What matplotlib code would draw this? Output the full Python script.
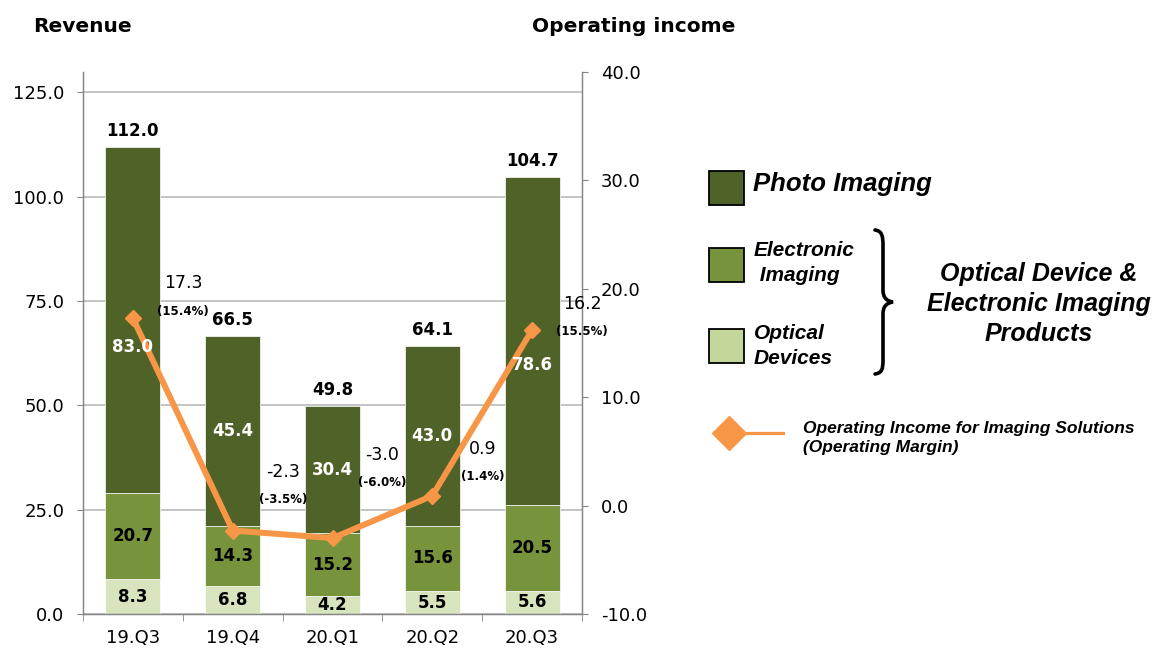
import matplotlib
matplotlib.use("Agg")
import matplotlib.pyplot as plt
from matplotlib.patches import Rectangle, PathPatch
from matplotlib.path import Path
from matplotlib.lines import Line2D

# --- data ---
quarters = ["19.Q3", "19.Q4", "20.Q1", "20.Q2", "20.Q3"]
optical_devices = [8.3, 6.8, 4.2, 5.5, 5.6]
electronic_imaging = [20.7, 14.3, 15.2, 15.6, 20.5]
photo_imaging = [83.0, 45.4, 30.4, 43.0, 78.6]
revenue_total = [112.0, 66.5, 49.8, 64.1, 104.7]
op_income = [17.3, -2.3, -3.0, 0.9, 16.2]
op_margin = [15.4, -3.5, -6.0, 1.4, 15.5]

# --- style ---
C_PHOTO = "#4F6228"
C_ELEC = "#77933C"
C_OPT = "#D7E4BD"
C_OPT_LEG = "#C4D79B"
C_LINE = "#F79646"
GRID = "#BFBFBF"
SPINE = "#868686"
NUM_FONT = "DejaVu Sans"
LEG_FONT = "Liberation Sans"

# label placement tweaks (points)
photo_label_shift = [-6.5, 0, 0, 0, -5.7]      # data units, moved off the line
inc_label_dy = [25, 42, 60, 34, 19]
inc_label_dx = 36
pct_gap = 20

W, H = 1157, 652
fig = plt.figure(figsize=(W / 100, H / 100), dpi=100)
ax = fig.add_axes([83 / W, 38 / H, 499 / W, 542 / H])
ax2 = ax.twinx()

x = list(range(len(quarters)))
bw = 0.55
ax.bar(x, optical_devices, bw, color=C_OPT, edgecolor="white", linewidth=0.5, zorder=2)
ax.bar(x, electronic_imaging, bw, bottom=optical_devices, color=C_ELEC,
       edgecolor="white", linewidth=0.5, zorder=2)
base2 = [a + b for a, b in zip(optical_devices, electronic_imaging)]
ax.bar(x, photo_imaging, bw, bottom=base2, color=C_PHOTO,
       edgecolor="white", linewidth=0.5, zorder=2)

LBL = 12
for i in x:
    ax.text(i, optical_devices[i] / 2, f"{optical_devices[i]:.1f}", ha="center", va="center",
            fontsize=LBL, fontweight="bold", family=NUM_FONT, color="black", zorder=3)
    ax.text(i, optical_devices[i] + electronic_imaging[i] / 2, f"{electronic_imaging[i]:.1f}",
            ha="center", va="center", fontsize=LBL, fontweight="bold", family=NUM_FONT,
            color="black", zorder=3)
    # drawn on the twin axes so the white labels sit above the orange line
    ax2.text(i, base2[i] + photo_imaging[i] / 2 + photo_label_shift[i], f"{photo_imaging[i]:.1f}",
             ha="center", va="center", fontsize=LBL, fontweight="bold", family=NUM_FONT,
             color="white", zorder=7, transform=ax.transData)
    ax.annotate(f"{revenue_total[i]:.1f}", (i, revenue_total[i]), xytext=(0, 5),
                textcoords="offset points", ha="center", va="bottom", fontsize=LBL,
                fontweight="bold", family=NUM_FONT)

ax.set_xlim(-0.5, len(quarters) - 0.5)
ax.set_ylim(0, 129.85)
ax.set_yticks([0, 25, 50, 75, 100, 125])
ax.set_yticklabels([f"{v:.1f}" for v in [0, 25, 50, 75, 100, 125]])
ax.set_xticks(x)
ax.set_xticklabels(quarters)
ax.set_xticks([i - 0.5 for i in range(len(quarters) + 1)], minor=True)
ax.tick_params(axis="x", which="major", length=0, pad=11, labelsize=13)
ax.tick_params(axis="x", which="minor", length=5, color=SPINE, direction="out")
ax.tick_params(axis="y", length=4.5, color=SPINE, pad=9, labelsize=13)
ax.grid(axis="y", color=GRID, linewidth=1.3, zorder=0)
ax.set_axisbelow(True)
ax.spines["top"].set_visible(False)
for s in ["left", "bottom", "right"]:
    ax.spines[s].set_color(SPINE)
    ax.spines[s].set_linewidth(1.0)

# --- operating income line ---
ax2.plot(x, op_income, color=C_LINE, linewidth=4.3, marker="D", markersize=8,
         markerfacecolor=C_LINE, markeredgecolor=C_LINE, zorder=5)
ax2.set_ylim(-10, 40)
ax2.set_yticks(range(-10, 41, 10))
ax2.set_yticklabels([f"{v:.1f}" for v in range(-10, 41, 10)])
ax2.tick_params(axis="y", length=4.5, color=SPINE, pad=9, labelsize=13)
ax2.spines["top"].set_visible(False)
for s in ["left", "bottom", "right"]:
    ax2.spines[s].set_color(SPINE)

for i in x:
    ax2.annotate(f"{op_income[i]:.1f}", (i, op_income[i]), xytext=(inc_label_dx, inc_label_dy[i]),
                 textcoords="offset points", ha="center", va="center", fontsize=12.5,
                 family=NUM_FONT)
    ax2.annotate(f"({op_margin[i]:.1f}%)", (i, op_income[i]),
                 xytext=(inc_label_dx, inc_label_dy[i] - pct_gap),
                 textcoords="offset points", ha="center", va="center", fontsize=8.5,
                 fontweight="bold", family=NUM_FONT)

for lbl in ax.get_xticklabels() + ax.get_yticklabels() + ax2.get_yticklabels():
    lbl.set_family(NUM_FONT)

# --- titles ---
fig.text(33 / W, 1 - 27 / H, "Revenue", fontsize=14.5, fontweight="bold", family=NUM_FONT,
         va="center", ha="left")
fig.text(532 / W, 1 - 27 / H, "Operating income", fontsize=14.5, fontweight="bold",
         family=NUM_FONT, va="center", ha="left")

# --- custom legend ---
def fx(px):
    return px / W


def fy(py):
    return 1 - py / H


swatches = [(171, C_PHOTO), (248, C_ELEC), (329, C_OPT_LEG)]
for top, col in swatches:
    fig.add_artist(Rectangle((fx(709), fy(top + 34)), 35 / W, 34 / H, transform=fig.transFigure,
                             facecolor=col, edgecolor="black", linewidth=1.3))

fig.text(fx(753), fy(184), "Photo Imaging", fontsize=18.5, fontweight="bold", style="italic",
         family=LEG_FONT, va="center", ha="left")
fig.text(fx(754), fy(263), "Electronic\n Imaging", fontsize=15, fontweight="bold",
         style="italic", family=LEG_FONT, va="center", ha="left", linespacing=1.42)
fig.text(fx(754), fy(346), "Optical\nDevices", fontsize=15, fontweight="bold",
         style="italic", family=LEG_FONT, va="center", ha="left", linespacing=1.42)
fig.text(fx(1039), fy(304), "Optical Device &\nElectronic Imaging\nProducts", fontsize=18,
         fontweight="bold", style="italic", family=LEG_FONT, va="center", ha="center",
         linespacing=1.32)

brace = [(875, 230), (882, 231), (883, 236), (883, 245), (883, 290),
         (883, 297), (886, 301), (893, 302), (886, 303), (883, 307), (883, 314),
         (883, 360), (883, 369), (882, 373), (875, 374)]
codes = [Path.MOVETO, Path.CURVE4, Path.CURVE4, Path.CURVE4, Path.LINETO,
         Path.CURVE4, Path.CURVE4, Path.CURVE4, Path.CURVE4, Path.CURVE4, Path.CURVE4,
         Path.LINETO, Path.CURVE4, Path.CURVE4, Path.CURVE4]
fig.add_artist(PathPatch(Path([(fx(a), fy(b)) for a, b in brace], codes),
                         transform=fig.transFigure, fill=False, edgecolor="black",
                         linewidth=2.6, capstyle="round"))

fig.add_artist(Line2D([fx(740), fx(783)], [fy(433), fy(433)], transform=fig.transFigure,
                      color=C_LINE, linewidth=2.3))
fig.add_artist(Line2D([fx(729)], [fy(433)], transform=fig.transFigure, marker="D",
                      markersize=17, color=C_LINE, linestyle="none"))
fig.text(fx(803), fy(438), "Operating Income for Imaging Solutions\n(Operating Margin)",
         fontsize=12.5, fontweight="bold", style="italic", family=LEG_FONT, va="center",
         ha="left", linespacing=1.4)

fig.savefig("out.png", dpi=100)
